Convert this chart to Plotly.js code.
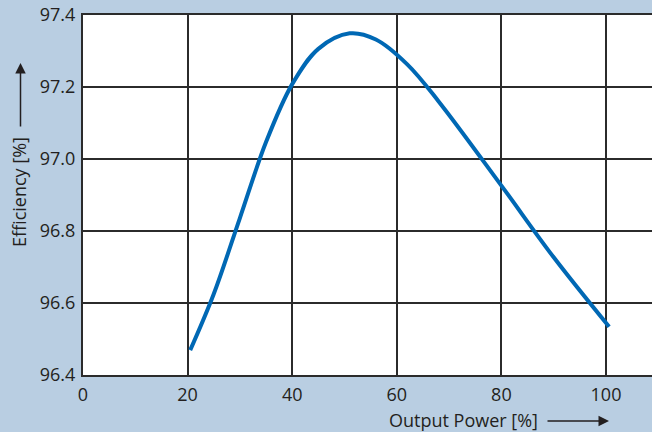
<!DOCTYPE html>
<html>
<head>
<meta charset="utf-8">
<script src="https://cdn.plot.ly/plotly-3.0.1.min.js"></script>
<style>html,body{margin:0;padding:0;background:#b9cee2;}#chart{width:652px;height:432px;}</style>
</head>
<body>
<div id="chart"></div>
<script>
const outputPower = [20.5, 25, 30, 35, 40, 45, 51, 56, 62, 68, 80, 90, 100.6];
const efficiency = [96.469, 96.625, 96.836, 97.047, 97.208, 97.306, 97.349, 97.332, 97.263, 97.16, 96.926, 96.727, 96.534];
const xTicks = [0, 20, 40, 60, 80, 100];
const yTicks = [96.4, 96.6, 96.8, 97.0, 97.2, 97.4];
const xTitle = 'Output Power [%]';
const yTitle = 'Efficiency [%]';

const font = {family: 'Open Sans, sans-serif', size: 18, color: '#231f20'};
const gridColor = '#2b2b2b';

const data = [{
  x: outputPower, y: efficiency, type: 'scatter', mode: 'lines',
  line: {color: '#0068b4', width: 4, shape: 'spline', smoothing: 1},
  hoverinfo: 'skip'
}];

const layout = {
  width: 652, height: 432,
  margin: {l: 83, r: 0, t: 15, b: 57, pad: 0},
  paper_bgcolor: '#b9cee2',
  plot_bgcolor: '#ffffff',
  showlegend: false,
  font: font,
  xaxis: {
    range: [0, 108.8], tickvals: xTicks, ticktext: xTicks.map(String),
    showgrid: true, gridcolor: gridColor, gridwidth: 2,
    showline: true, linecolor: gridColor, linewidth: 2, mirror: true,
    zeroline: false, ticks: '', tickfont: font, ticklabelstandoff: 2
  },
  yaxis: {
    range: [96.4, 97.4], tickvals: yTicks, ticktext: yTicks.map(v => v.toFixed(1)),
    showgrid: true, gridcolor: gridColor, gridwidth: 2,
    showline: true, linecolor: gridColor, linewidth: 2,
    zeroline: false, ticks: '', tickfont: font, ticklabelstandoff: 2
  },
  annotations: [
    {xref: 'paper', yref: 'paper', x: (387 - 83) / 569, y: -(420 - 375) / 360,
     xanchor: 'left', yanchor: 'middle', text: xTitle, showarrow: false, font: font},
    {xref: 'paper', yref: 'paper', x: (609 - 83) / 569, y: -(421 - 375) / 360,
     ax: -63, ay: 0, axref: 'pixel', ayref: 'pixel', text: '', showarrow: true,
     arrowhead: 2, arrowsize: 1.4, arrowwidth: 1.5, arrowcolor: '#231f20'},
    {xref: 'paper', yref: 'paper', x: (19 - 83) / 569, y: (375 - 192) / 360,
     xanchor: 'center', yanchor: 'middle', text: yTitle, textangle: -90, showarrow: false, font: font},
    {xref: 'paper', yref: 'paper', x: (20.5 - 83) / 569, y: (375 - 63) / 360,
     ax: 0, ay: 65, axref: 'pixel', ayref: 'pixel', text: '', showarrow: true,
     arrowhead: 2, arrowsize: 1.4, arrowwidth: 1.5, arrowcolor: '#231f20'}
  ]
};

Plotly.newPlot('chart', data, layout, {displayModeBar: false, staticPlot: true});
</script>
</body>
</html>
